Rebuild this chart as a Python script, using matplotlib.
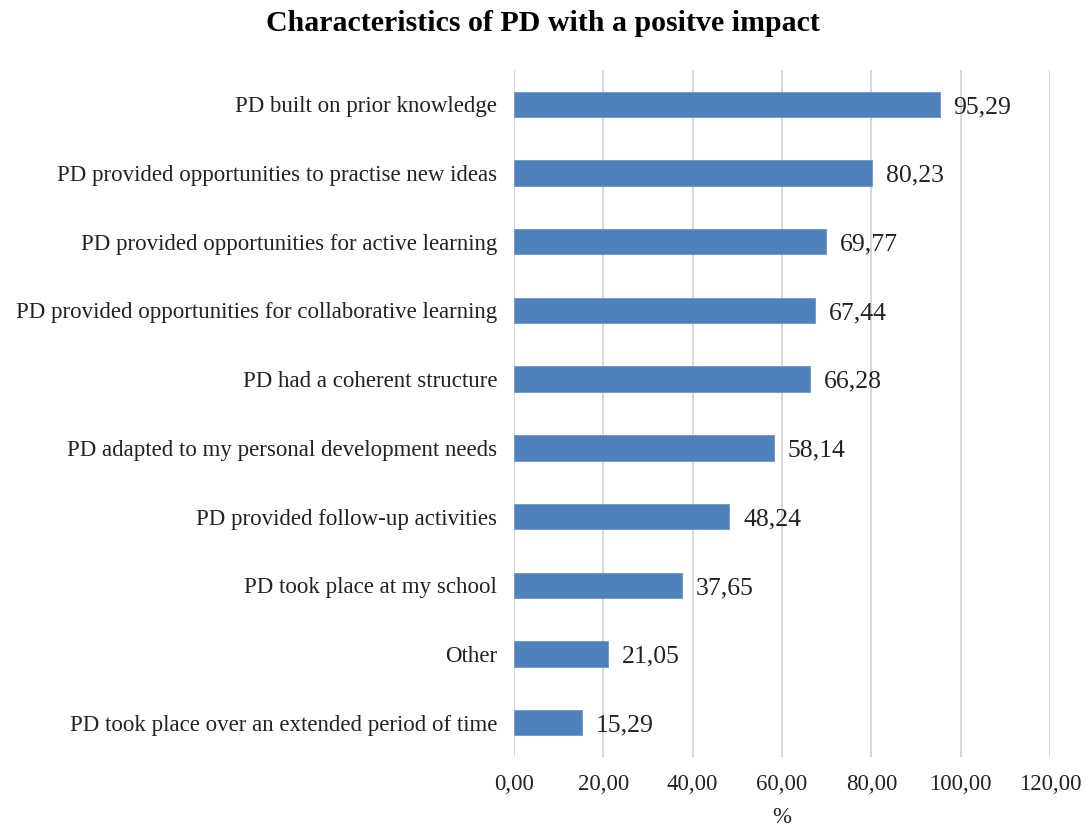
import numpy as np
import matplotlib.pyplot as plt
from matplotlib.ticker import FuncFormatter

# Data (top to bottom as in the chart)
categories = [
    "PD built on prior knowledge",
    "PD provided opportunities to practise new ideas",
    "PD provided opportunities for active learning",
    "PD provided opportunities for collaborative learning",
    "PD had a coherent structure",
    "PD adapted to my personal development needs",
    "PD provided follow-up activities",
    "PD took place at my school",
    "Other",
    "PD took place over an extended period of time",
]
values = [95.29, 80.23, 69.77, 67.44, 66.28, 58.14, 48.24, 37.65, 21.05, 15.29]

plt.rcParams['font.family'] = ['Liberation Serif', 'DejaVu Serif']

fig = plt.figure(figsize=(10.86, 8.3), dpi=100)
ax = fig.add_axes([0.4733, 0.088, 0.4936, 0.8277])

y = np.arange(len(categories))[::-1]
ax.barh(y, values, height=0.37, color='#4F81BD', edgecolor='#6A95C8', linewidth=0.6, zorder=3)

for yi, v in zip(y, values):
    ax.text(v + 3.1, yi - 0.04, f"{v:.2f}".replace('.', ','), va='center', ha='left',
            fontsize=18.5, color='#222222')

ax.set_xlim(0, 120)
ax.set_ylim(-0.5, len(categories) - 0.5)
ax.set_xticks(np.arange(0, 121, 20))
ax.xaxis.set_major_formatter(FuncFormatter(lambda x, p: f"{x:.2f}".replace('.', ',')))
ax.set_yticks(y)
ax.set_yticklabels(categories)
ax.tick_params(axis='both', length=0, labelsize=16.5, colors='#222222')
ax.tick_params(axis='y', pad=12)
ax.tick_params(axis='x', pad=12)
ax.grid(axis='x', color='#D0D0D0', linewidth=1.2, zorder=0)
for s in ax.spines.values():
    s.set_visible(False)

ax.set_xlabel('%', fontsize=16.5, color='#222222', labelpad=9)
fig.suptitle('Characteristics of PD with a positve impact', fontsize=21.5,
             fontweight='bold', x=0.5, y=0.988)

fig.savefig('out.png', dpi=100)
